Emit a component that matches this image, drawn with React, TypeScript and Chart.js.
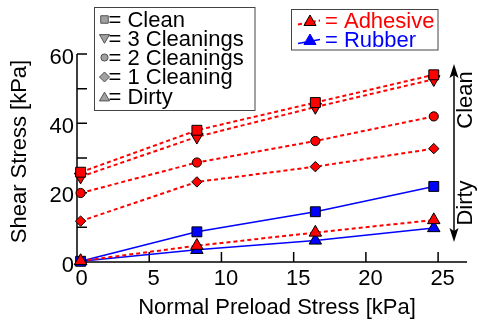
import React, { useEffect, useRef } from "react";
import { Chart, registerables } from "chart.js";

Chart.register(...registerables);

// ---- data ----
const preload = [0.25, 8.3, 16.5, 24.7];
const adhesiveClean = [25.9, 38.0, 46.0, 54.0];
const adhesive3Cleanings = [24.6, 36.1, 44.7, 52.7];
const adhesive2Cleanings = [19.9, 28.7, 34.9, 42.0];
const adhesive1Cleaning = [11.8, 23.1, 27.5, 32.7];
const adhesiveDirty = [0.3, 4.7, 8.5, 12.1];
const rubberClean = [0.2, 8.7, 14.5, 21.8];
const rubberDirty = [0.2, 3.5, 6.2, 9.8];

const xTicks = [0, 5, 10, 15, 20, 25];
const yTicks = [0, 10, 20, 30, 40, 50, 60];
const yLabelled = [0, 20, 40, 60];
const conditionLabels = ["Clean", "3 Cleanings", "2 Cleanings", "1 Cleaning", "Dirty"];
const materialLabels = ["Adhesive", "Rubber"];
const xTitle = "Normal Preload Stress [kPa]";
const yTitle = "Shear Stress [kPa]";
const upLabel = "Clean";
const downLabel = "Dirty";

const FONT = '"Liberation Sans", Arial, Helvetica, sans-serif';
const RED = "#ff0000";
const BLUE = "#0000ff";

type Shape = "rect" | "triDown" | "circle" | "diamond" | "triUp";

function drawMarker(ctx: CanvasRenderingContext2D, shape: Shape, x: number, y: number, r: number) {
  ctx.beginPath();
  if (shape === "rect") {
    const s = r * Math.SQRT1_2;
    ctx.rect(x - s, y - s, 2 * s, 2 * s);
  } else if (shape === "circle") {
    ctx.arc(x, y, r, 0, Math.PI * 2);
  } else if (shape === "diamond") {
    ctx.moveTo(x - r, y);
    ctx.lineTo(x, y - r);
    ctx.lineTo(x + r, y);
    ctx.lineTo(x, y + r);
    ctx.closePath();
  } else {
    let a = shape === "triUp" ? 0 : Math.PI;
    ctx.moveTo(x + Math.sin(a) * r, y - Math.cos(a) * r);
    for (let i = 0; i < 2; i++) {
      a += (2 * Math.PI) / 3;
      ctx.lineTo(x + Math.sin(a) * r, y - Math.cos(a) * r);
    }
    ctx.closePath();
  }
  ctx.fill();
  ctx.stroke();
}

const axesPlugin = {
  id: "customAxes",
  beforeDatasetsDraw(chart: any) {
    const { ctx, chartArea, scales } = chart;
    const xs = scales.x;
    const ys = scales.y;
    ctx.save();
    ctx.strokeStyle = "#000";
    ctx.lineWidth = 1.5;
    ctx.beginPath();
    ctx.moveTo(chartArea.left, chartArea.top);
    ctx.lineTo(chartArea.left, chartArea.bottom);
    ctx.lineTo(chartArea.right, chartArea.bottom);
    ctx.stroke();
    // inward tick marks
    ctx.beginPath();
    for (const v of yTicks) {
      const py = ys.getPixelForValue(v);
      ctx.moveTo(chartArea.left, py);
      ctx.lineTo(chartArea.left + 10, py);
    }
    for (const v of xTicks) {
      if (v === 0) continue;
      const px = xs.getPixelForValue(v);
      ctx.moveTo(px, chartArea.bottom);
      ctx.lineTo(px, chartArea.bottom - 10);
    }
    ctx.stroke();

    // axis titles
    ctx.fillStyle = "#000";
    ctx.font = `22px ${FONT}`;
    ctx.textAlign = "center";
    ctx.textBaseline = "middle";
    ctx.fillText(xTitle, 277, 307.5);
    ctx.save();
    ctx.translate(19.5, 151.5);
    ctx.rotate(-Math.PI / 2);
    ctx.fillText(yTitle, 0, 0);
    ctx.restore();
    ctx.restore();
  },
  afterDraw(chart: any) {
    const { ctx } = chart;
    ctx.save();

    // ---- legend 1: conditions ----
    ctx.fillStyle = "#fff";
    ctx.fillRect(94.5, 7.5, 160.5, 103);
    ctx.strokeStyle = "#444";
    ctx.lineWidth = 1;
    ctx.strokeRect(94.5, 7.5, 160.5, 103);
    const shapes: Shape[] = ["rect", "triDown", "circle", "diamond", "triUp"];
    const sizes = [5.3, 5.8, 3.6, 5, 5.8];
    const rowsY = [19.5, 38.5, 57.5, 77, 96.5];
    ctx.font = `22px ${FONT}`;
    ctx.textAlign = "left";
    ctx.textBaseline = "middle";
    conditionLabels.forEach((lab, i) => {
      ctx.fillStyle = "#a0a0a0";
      ctx.strokeStyle = "#505050";
      ctx.lineWidth = 1;
      const yy = rowsY[i] + (shapes[i] === "triUp" ? 1.5 : shapes[i] === "triDown" ? -1 : 0);
      drawMarker(ctx, shapes[i], 104.5, yy, sizes[i]);
      ctx.fillStyle = "#000";
      ctx.fillText("= " + lab, 108.5, rowsY[i] + 1);
    });

    // ---- legend 2: materials ----
    ctx.fillStyle = "#fff";
    ctx.fillRect(291.5, 9.5, 146.5, 40.5);
    ctx.strokeStyle = "#444";
    ctx.lineWidth = 1;
    ctx.strokeRect(291.5, 9.5, 146.5, 40.5);
    const mRows = [20.5, 39.5];
    const mColors = [RED, BLUE];
    ctx.font = `22px ${FONT}`;
    materialLabels.forEach((lab, i) => {
      const yy = mRows[i];
      ctx.strokeStyle = mColors[i];
      ctx.lineWidth = i === 0 ? 2 : 1.5;
      ctx.setLineDash(i === 0 ? [4, 3] : []);
      ctx.beginPath();
      ctx.moveTo(298, yy + 4);
      ctx.lineTo(320, yy);
      ctx.stroke();
      ctx.setLineDash([]);
      ctx.fillStyle = mColors[i];
      ctx.strokeStyle = i === 1 ? BLUE : "#000";
      ctx.lineWidth = 1;
      drawMarker(ctx, "triUp", 310, yy + 1.5, 7);
      ctx.fillStyle = mColors[i];
      ctx.fillText("= " + lab, 325, yy + 1);
    });

    // ---- right side arrow annotation ----
    ctx.strokeStyle = "#000";
    ctx.fillStyle = "#000";
    ctx.lineWidth = 1.5;
    ctx.beginPath();
    ctx.moveTo(454, 70);
    ctx.lineTo(454, 236);
    ctx.stroke();
    ctx.beginPath();
    ctx.moveTo(454, 64);
    ctx.lineTo(449.5, 78);
    ctx.lineTo(454, 75);
    ctx.lineTo(458.5, 78);
    ctx.closePath();
    ctx.fill();
    ctx.beginPath();
    ctx.moveTo(454, 242);
    ctx.lineTo(449.5, 228);
    ctx.lineTo(454, 231);
    ctx.lineTo(458.5, 228);
    ctx.closePath();
    ctx.fill();

    ctx.font = `22px ${FONT}`;
    ctx.textAlign = "center";
    ctx.textBaseline = "middle";
    ctx.save();
    ctx.translate(466, 100);
    ctx.rotate(-Math.PI / 2);
    ctx.fillText(upLabel, 0, 0);
    ctx.restore();
    ctx.save();
    ctx.translate(466, 203);
    ctx.rotate(-Math.PI / 2);
    ctx.fillText(downLabel, 0, 0);
    ctx.restore();

    ctx.restore();
  },
};

function series(values: number[]) {
  return values.map((v, i) => ({ x: preload[i], y: v }));
}

export default function App() {
  const ref = useRef<HTMLCanvasElement | null>(null);

  useEffect(() => {
    if (!ref.current) return;
    const redBase = {
      borderColor: RED,
      backgroundColor: RED,
      borderWidth: 2,
      borderDash: [4, 3],
      pointBackgroundColor: RED,
      pointBorderColor: "#000",
      pointBorderWidth: 1,
      clip: false as const,
    };
    const blueBase = {
      borderColor: BLUE,
      backgroundColor: BLUE,
      borderWidth: 1.5,
      pointBackgroundColor: BLUE,
      pointBorderColor: "#000",
      pointBorderWidth: 1,
      clip: false as const,
    };
    const chart = new Chart(ref.current, {
      type: "line",
      data: {
        datasets: [
          { ...redBase, label: "Adhesive Clean", data: series(adhesiveClean), pointStyle: "rect", pointRadius: 7 },
          { ...redBase, label: "Adhesive 3 Cleanings", data: series(adhesive3Cleanings), pointStyle: "triangle", pointRotation: 180, pointRadius: 7.2 },
          { ...redBase, label: "Adhesive 2 Cleanings", data: series(adhesive2Cleanings), pointStyle: "circle", pointRadius: 4.6 },
          { ...redBase, label: "Adhesive 1 Cleaning", data: series(adhesive1Cleaning), pointStyle: "rectRot", pointRadius: 5.2 },
          { ...redBase, label: "Adhesive Dirty", data: series(adhesiveDirty), pointStyle: "triangle", pointRadius: 7.2 },
          { ...blueBase, label: "Rubber Clean", data: series(rubberClean), pointStyle: "rect", pointRadius: 7 },
          { ...blueBase, label: "Rubber Dirty", data: series(rubberDirty), pointStyle: "triangle", pointRadius: 7.2 },
        ] as any,
      },
      options: {
        responsive: false,
        animation: false,
        devicePixelRatio: 1,
        layout: { padding: { top: 54, right: 11, left: 0, bottom: 0 } },
        elements: { line: { tension: 0 } },
        plugins: { legend: { display: false }, tooltip: { enabled: false } },
        scales: {
          x: {
            type: "linear",
            position: "bottom",
            min: 0,
            max: 27,
            grid: { display: false, drawTicks: false },
            border: { display: false },
            afterFit: (s: any) => {
              s.height = 65;
            },
            afterBuildTicks: (s: any) => {
              s.ticks = xTicks.map((v) => ({ value: v }));
            },
            ticks: {
              color: "#000",
              font: { family: FONT, size: 22 },
              padding: 4,
              labelOffset: 4.5,
              maxRotation: 0,
              autoSkip: false,
            },
          },
          y: {
            type: "linear",
            min: 0,
            max: 60,
            grid: { display: false, drawTicks: false },
            border: { display: false },
            afterFit: (s: any) => {
              s.width = 77;
            },
            afterBuildTicks: (s: any) => {
              s.ticks = yLabelled.map((v) => ({ value: v }));
            },
            ticks: {
              color: "#000",
              font: { family: FONT, size: 22 },
              padding: 3,
              labelOffset: 3.5,
              autoSkip: false,
            },
          },
        },
      },
      plugins: [axesPlugin],
    });
    return () => chart.destroy();
  }, []);

  return (
    <div style={{ position: "fixed", left: 0, top: 0, width: 478, height: 327, background: "#fff" }}>
      <canvas ref={ref} width={478} height={327} style={{ display: "block", width: 478, height: 327 }} />
    </div>
  );
}
